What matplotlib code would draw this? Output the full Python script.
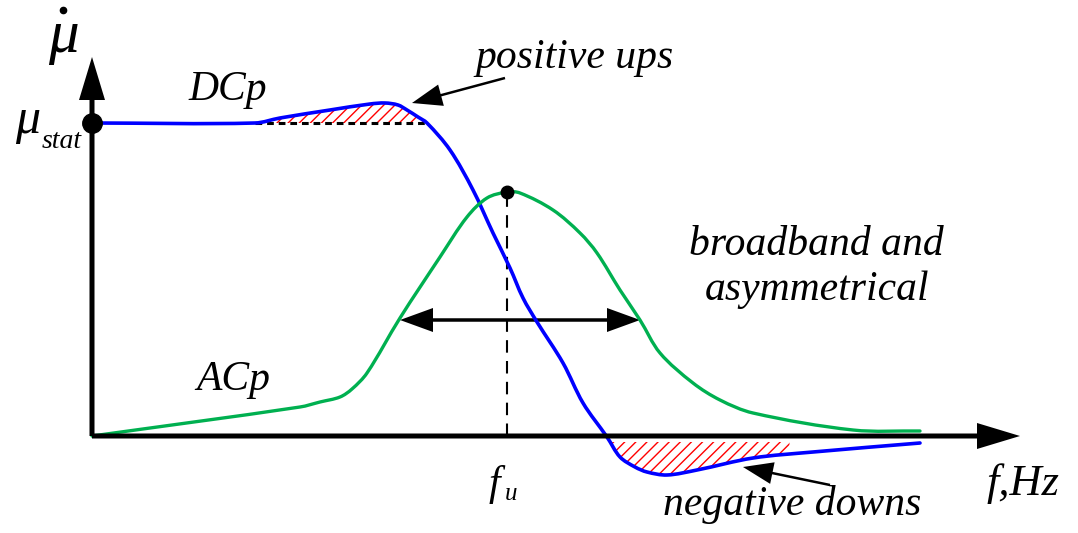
import numpy as np
import matplotlib.pyplot as plt
from matplotlib.patches import FancyArrow, PathPatch
from matplotlib.path import Path

# DC permeability curve (f, mu)
dc_f = [0, 163, 188, 238, 278, 293, 306, 315, 326, 335, 358, 381, 401, 418, 431, 445,
        471, 491, 515, 528, 543, 555, 575, 605, 661, 721, 828]
dc_mu = [313, 313, 318, 326, 332, 333, 331, 326, 319, 313, 286, 246, 203, 168, 138, 114,
         73, 33, -1, -21, -31, -36, -39, -34, -22, -16, -7]

# AC permeability curve (f, mu)
ac_f = [0, 208, 228, 248, 260, 275, 308, 348, 375, 395, 415, 428, 461, 488, 505, 528,
        548, 568, 601, 628, 661, 761, 828]
ac_mu = [0, 29, 34, 39, 47, 63, 118, 179, 219, 238, 244, 243, 226, 203, 183, 146,
         116, 83, 53, 36, 23, 6, 5]

mu_stat = 313
f_u = 415
ac_peak = 244
bw_left, bw_right, bw_level = 308, 548, 116


def smooth_path(xs, ys):
    # cubic Bezier through the points, tangents weighted by segment length
    pts = np.column_stack([xs, ys]).astype(float)
    n = len(pts)
    seg = np.hypot(*np.diff(pts, axis=0).T)
    tang = np.zeros_like(pts)
    tang[0] = (pts[1] - pts[0]) / seg[0]
    tang[-1] = (pts[-1] - pts[-2]) / seg[-1]
    for i in range(1, n - 1):
        tang[i] = (pts[i + 1] - pts[i - 1]) / (seg[i - 1] + seg[i])
    verts = [pts[0]]
    codes = [Path.MOVETO]
    for i in range(n - 1):
        d = seg[i] / 3
        verts += [pts[i] + tang[i] * d, pts[i + 1] - tang[i + 1] * d, pts[i + 1]]
        codes += [Path.CURVE4] * 3
    return Path(verts, codes)


plt.rcParams['font.family'] = ['Liberation Serif', 'DejaVu Serif']
plt.rcParams['hatch.linewidth'] = 1.0

fig = plt.figure(figsize=(10.78, 5.33), dpi=100)
ax = fig.add_axes([0, 0, 1, 1])
ax.set_xlim(-92, 986)
ax.set_ylim(-97, 436)
ax.axis('off')

dc_path = smooth_path(dc_f, dc_mu)
ac_path = smooth_path(ac_f, ac_mu)

# hatched regions: positive ups above mu_stat, negative downs below zero
dc_line = dc_path.to_polygons(closed_only=False)[0]
grid = np.linspace(0, 828, 1200)
dc_fine = np.interp(grid, dc_line[:, 0], dc_line[:, 1])
up = (grid >= 163) & (grid <= 336) & (dc_fine >= mu_stat)
ax.fill_between(grid, mu_stat, dc_fine, where=up, facecolor='none',
                edgecolor='red', hatch='///', linewidth=0)
down = (grid >= 518) & (grid <= 698) & (dc_fine <= -6)
ax.fill_between(grid, -6, dc_fine, where=down, facecolor='none',
                edgecolor='red', hatch='///', linewidth=0)

# curves
ax.add_patch(PathPatch(dc_path, fill=False, edgecolor='#0000ff', lw=2.6,
                       capstyle='round', zorder=3))
ax.add_patch(PathPatch(ac_path, fill=False, edgecolor='#00b050', lw=2.4,
                       capstyle='round', zorder=3))

# static level and centre frequency
ax.plot([163, 336], [mu_stat, mu_stat], color='k', lw=2.2, dashes=(2.2, 1.6), zorder=2)
ax.plot([f_u, f_u], [0, ac_peak], color='k', lw=1.5, dashes=(6, 4), zorder=2)
ax.plot([f_u], [ac_peak], 'o', color='k', ms=9, zorder=5)

# axes with arrow heads
ax.add_patch(FancyArrow(0, 0, 0, 379, width=5, head_width=26, head_length=43,
                        length_includes_head=True, color='k', lw=0, zorder=4))
ax.add_patch(FancyArrow(0, 0, 928, 0, width=5, head_width=26, head_length=43,
                        length_includes_head=True, color='k', lw=0, zorder=4))
ax.plot([0], [mu_stat], 'o', color='k', ms=14, zorder=6)

# bandwidth double arrow
mid = (bw_left + bw_right) / 2
for end in (bw_left, bw_right):
    ax.add_patch(FancyArrow(mid, bw_level, end - mid, 0, width=3.5, head_width=24,
                            head_length=33, length_includes_head=True, color='k', lw=0))

# pointer arrows
ax.add_patch(FancyArrow(413, 358, -93, -25, width=2.5, head_width=22, head_length=30,
                        length_includes_head=True, color='k', lw=0))
ax.add_patch(FancyArrow(738, -49, -87, 18, width=2.5, head_width=22, head_length=30,
                        length_includes_head=True, color='k', lw=0))

txt = dict(style='italic', color='k')
ax.text(-29, 384, '\u03bc', fontsize=44, ha='center', va='baseline', **txt)
ax.plot([-29], [426], 'o', color='k', ms=4.5)
ax.text(-64, 303, '\u03bc', fontsize=36, ha='center', va='baseline', **txt)
ax.text(-30, 288, 'stat', fontsize=20, ha='center', va='baseline', **txt)
ax.text(136, 336, 'DCp', fontsize=30, ha='center', va='baseline', **txt)
ax.text(141, 46, 'ACp', fontsize=30, ha='center', va='baseline', **txt)
ax.text(483, 368, 'positive ups', fontsize=30, ha='center', va='baseline', **txt)
ax.text(724, 181, 'broadband and', fontsize=30, ha='center', va='baseline', **txt)
ax.text(725, 136, 'asymmetrical', fontsize=30, ha='center', va='baseline', **txt)
ax.text(700, -79, 'negative downs', fontsize=30, ha='center', va='baseline', **txt)
ax.text(931, -59, 'f,Hz', fontsize=32, ha='center', va='baseline', **txt)
ax.text(402, -59, 'f', fontsize=30, ha='center', va='baseline', **txt)
ax.text(419, -64, 'u', fontsize=18, ha='center', va='baseline', **txt)

fig.savefig('out.png', dpi=100)
